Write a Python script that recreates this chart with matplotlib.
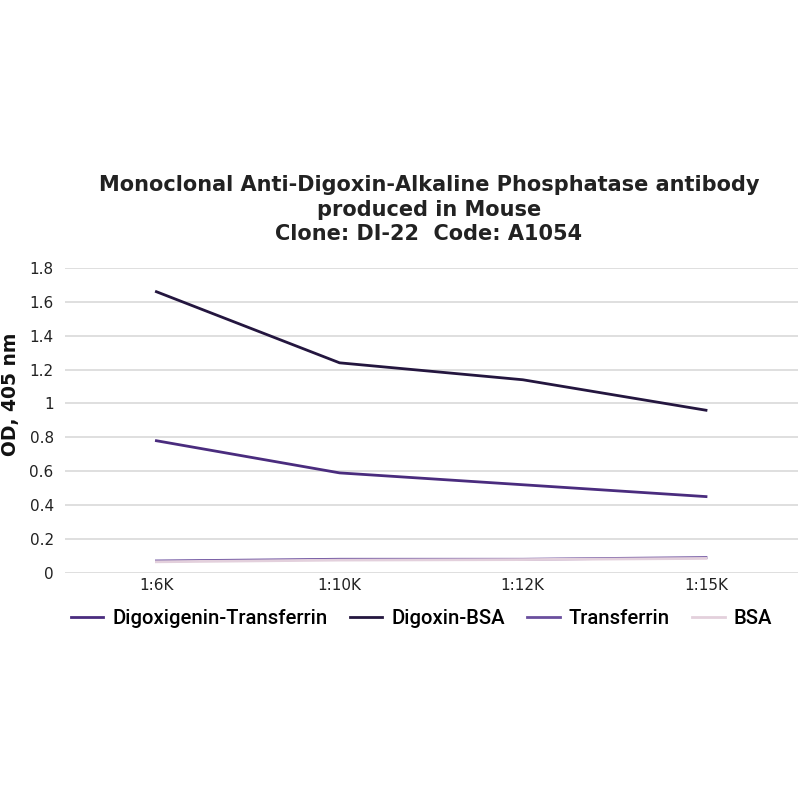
import matplotlib
matplotlib.use("Agg")
import matplotlib.pyplot as plt

plt.rcParams["font.family"] = "DejaVu Sans"

# dilutions and OD readings
dilutions = ["1:6K", "1:10K", "1:12K", "1:15K"]
dig_transferrin = [0.78, 0.59, 0.52, 0.45]
digoxin_bsa = [1.66, 1.24, 1.14, 0.96]
transferrin = [0.07, 0.08, 0.08, 0.09]
bsa = [0.065, 0.075, 0.078, 0.085]

series_names = ["Digoxigenin-Transferrin", "Digoxin-BSA", "Transferrin", "BSA"]
colors = ["#4a2c7e", "#24163f", "#6a4f9e", "#e3d0dc"]
zorders = [3, 4, 2, 3]

fig = plt.figure(figsize=(8, 8), dpi=100)
ax = fig.add_axes([0.081, 0.284, 0.916, 0.381])

x = list(range(len(dilutions)))
for name, vals, c, z in zip(series_names, [dig_transferrin, digoxin_bsa, transferrin, bsa], colors, zorders):
    ax.plot(x, vals, color=c, linewidth=2, label=name, zorder=z)

ax.set_xlim(-0.5, 3.5)
ax.set_ylim(0, 1.8)
ax.set_yticks([0, 0.2, 0.4, 0.6, 0.8, 1, 1.2, 1.4, 1.6, 1.8])
ax.set_yticklabels(["0", "0.2", "0.4", "0.6", "0.8", "1", "1.2", "1.4", "1.6", "1.8"])
ax.set_xticks(x)
ax.set_xticklabels(dilutions)
ax.tick_params(axis="both", length=0, labelsize=11, colors="#222222")
ax.tick_params(axis="x", pad=4)
ax.tick_params(axis="y", pad=8)
ax.grid(axis="y", color="#d9d9d9", linewidth=1.2)
ax.set_axisbelow(True)
for s in ax.spines.values():
    s.set_visible(False)

ax.set_ylabel("OD, 405 nm", fontsize=13.5, fontweight="bold", color="#111111")
ax.yaxis.set_label_coords(-0.061, 0.584)

fig.text(0.536, 0.738,
         "Monoclonal Anti-Digoxin-Alkaline Phosphatase antibody\nproduced in Mouse\nClone: DI-22  Code: A1054",
         ha="center", va="center", fontsize=15, fontweight="bold", color="#222222",
         linespacing=1.3)

fig.legend(loc="center", bbox_to_anchor=(0.527, 0.227), ncol=4, frameon=False,
           handlelength=1.6, columnspacing=1.1, handletextpad=0.45,
           prop={"family": "Roboto", "size": 14.6, "weight": "medium"})

fig.savefig("out.png", dpi=100)
